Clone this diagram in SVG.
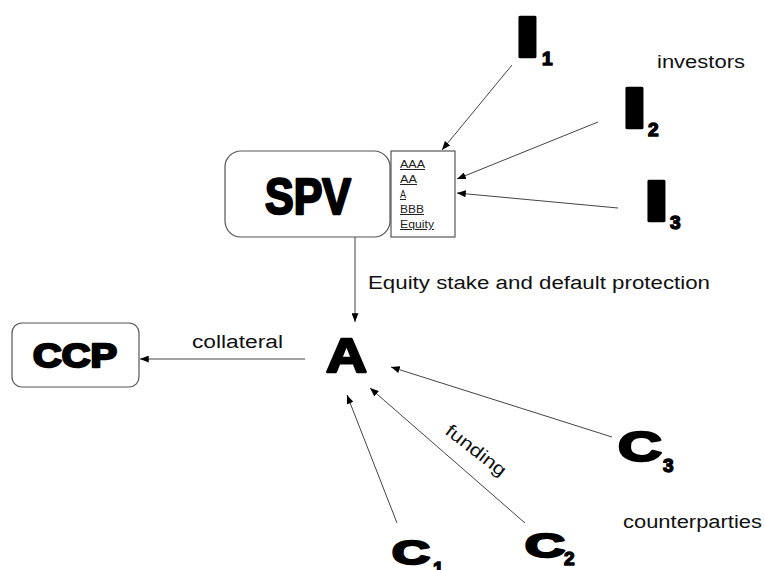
<svg xmlns="http://www.w3.org/2000/svg" width="765" height="570" viewBox="0 0 765 570">
<style>
.box{fill:#fff;stroke:#555;stroke-width:1.2}
.lbl{font-family:"Liberation Sans",Arial,sans-serif;font-size:18px;fill:#111}
.tr{font-family:"Liberation Sans",Arial,sans-serif;font-size:10px;fill:#222;text-decoration:underline}
.big{font-family:"Liberation Sans",Arial,sans-serif;font-weight:bold;fill:#000;stroke:#000;stroke-width:2.4;stroke-linejoin:round}
.sub{font-family:"Liberation Sans",Arial,sans-serif;font-weight:bold;font-size:19px;fill:#000;stroke:#000;stroke-width:1.4}
.edge{stroke:#444;stroke-width:1;fill:none;marker-end:url(#ah)}
</style>
<defs>
<marker id="ah" viewBox="0 0 10 8" refX="10" refY="4" markerWidth="9" markerHeight="7" markerUnits="userSpaceOnUse" orient="auto">
<path d="M0,0 L10,4 L0,8 z" fill="#000"/>
</marker>
</defs>
<rect width="765" height="570" fill="#fff"/>
<g id="connectors">
<line class="edge" x1="512" y1="65" x2="442" y2="150"/>
<line class="edge" x1="598" y1="122" x2="457" y2="179"/>
<line class="edge" x1="618" y1="208" x2="457" y2="193"/>
<line class="edge" x1="355" y1="237" x2="355" y2="322"/>
<line class="edge" x1="305" y1="359" x2="140" y2="359"/>
<line class="edge" x1="612" y1="437" x2="391" y2="367"/>
<line class="edge" x1="525" y1="523" x2="370" y2="388"/>
<line class="edge" x1="397" y1="523" x2="347" y2="395"/>
</g>
<g id="spv">
<rect class="box" x="225" y="151" width="165" height="86" rx="16"/>
<text class="big" x="265" y="214" font-size="50" textLength="86" lengthAdjust="spacingAndGlyphs">SPV</text>
</g>
<g id="tranches">
<rect class="box" x="391" y="151" width="64" height="86"/>
<text class="tr" x="400" y="168" textLength="25" lengthAdjust="spacingAndGlyphs">AAA</text>
<text class="tr" x="400" y="183" textLength="17" lengthAdjust="spacingAndGlyphs">AA</text>
<text class="tr" x="400" y="198" textLength="6" lengthAdjust="spacingAndGlyphs">A</text>
<text class="tr" x="400" y="213" textLength="24" lengthAdjust="spacingAndGlyphs">BBB</text>
<text class="tr" x="400" y="228" textLength="34" lengthAdjust="spacingAndGlyphs">Equity</text>
</g>
<g id="ccp">
<rect class="box" x="12" y="323" width="127" height="64" rx="10"/>
<text class="big" x="33" y="367" font-size="34" textLength="84" lengthAdjust="spacingAndGlyphs">CCP</text>
</g>
<g id="a">
<text class="big" x="326" y="372" font-size="48" textLength="41" lengthAdjust="spacingAndGlyphs">A</text>
</g>
<g id="i1">
<text class="big" font-size="57" transform="translate(514,57) scale(1.7,1)">I</text>
<text class="sub" x="542" y="65">1</text>
</g>
<g id="i2">
<text class="big" font-size="57" transform="translate(621,128) scale(1.7,1)">I</text>
<text class="sub" x="648" y="136">2</text>
</g>
<g id="i3">
<text class="big" font-size="57" transform="translate(643,221) scale(1.7,1)">I</text>
<text class="sub" x="670" y="229">3</text>
</g>
<g id="c1">
<text class="big" x="392" y="564" font-size="34" textLength="38" lengthAdjust="spacingAndGlyphs">C</text>
<text class="sub" x="433" y="575">1</text>
</g>
<g id="c2">
<text class="big" x="525" y="557" font-size="34" textLength="40" lengthAdjust="spacingAndGlyphs">C</text>
<text class="sub" x="564" y="565">2</text>
</g>
<g id="c3">
<text class="big" x="618" y="461" font-size="42" textLength="44" lengthAdjust="spacingAndGlyphs">C</text>
<text class="sub" x="663" y="472">3</text>
</g>
<g id="labels">
<text class="lbl" x="657" y="68" textLength="88" lengthAdjust="spacingAndGlyphs">investors</text>
<text class="lbl" x="623" y="528" textLength="139" lengthAdjust="spacingAndGlyphs">counterparties</text>
<text class="lbl" x="368" y="289" textLength="342" lengthAdjust="spacingAndGlyphs">Equity stake and default protection</text>
<text class="lbl" x="192" y="348" textLength="91" lengthAdjust="spacingAndGlyphs">collateral</text>
<text class="lbl" transform="translate(444,433) rotate(38)" textLength="72" lengthAdjust="spacingAndGlyphs">funding</text>
</g>
</svg>
